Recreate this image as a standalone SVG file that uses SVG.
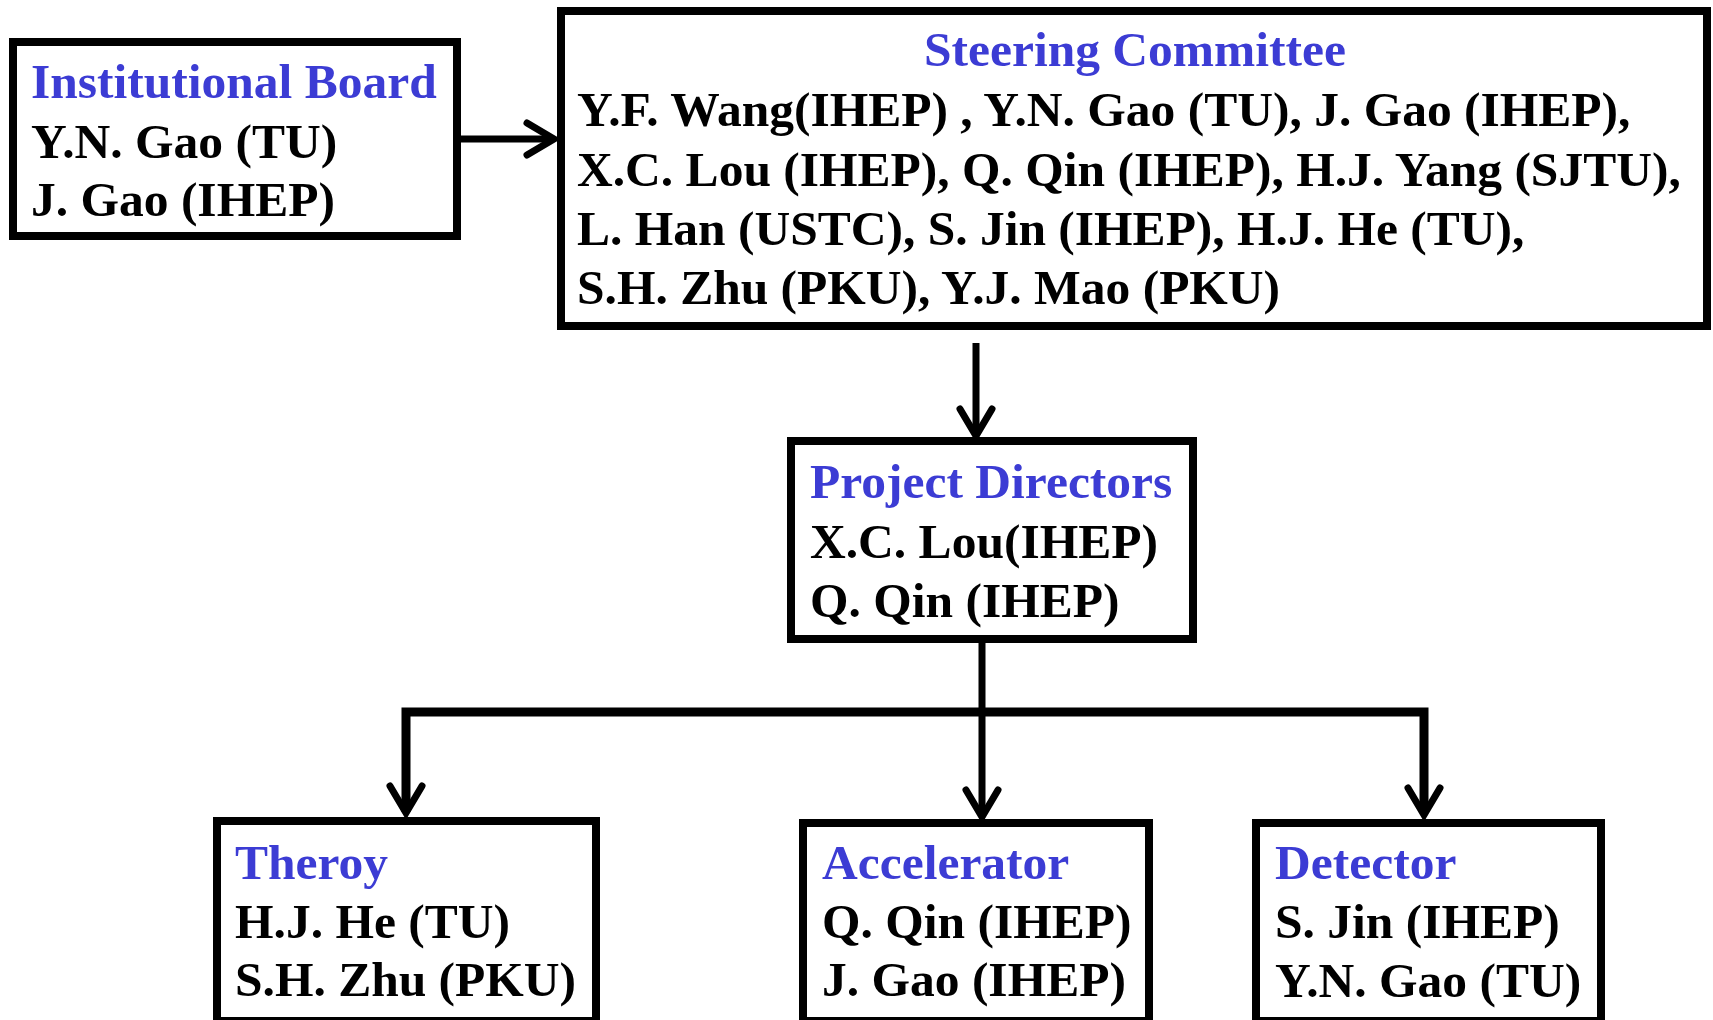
<svg xmlns="http://www.w3.org/2000/svg" width="1713" height="1020" viewBox="0 0 1713 1020">
<style>
.box{fill:#fff;stroke:#000;stroke-width:8}
.t{font-family:"Liberation Serif","Times New Roman",serif;font-weight:bold;font-size:49.5px;fill:#000}
.h{fill:#3c3cd4}
.c{fill:none;stroke:#000;stroke-width:7}
.bar{fill:none;stroke:#000;stroke-width:9;stroke-linejoin:miter}
.ah{fill:none;stroke:#000;stroke-width:7;stroke-linejoin:miter;stroke-linecap:round}
</style>
<rect width="1713" height="1020" fill="#fff"/>
<g id="connectors">
<line class="c" x1="461" y1="139" x2="553" y2="139"/>
<path class="ah" d="M527,123 L554,139 L527,155"/>
<line class="c" x1="976" y1="343" x2="976" y2="435"/>
<path class="ah" d="M960,409 L976,436 L992,409"/>
<line class="c" x1="982" y1="643" x2="982" y2="816"/>
<path class="ah" d="M966,790 L982,817 L998,790"/>
<path class="bar" d="M406,812 V712 H1424 V813"/>
<path class="ah" d="M390,786 L406,813 L422,786"/>
<path class="ah" d="M1408,788 L1424,815 L1440,788"/>
</g>
<g id="institutional-board">
<rect class="box" x="13" y="42" width="444" height="194"/>
<text class="t h" x="31" y="98">Institutional Board</text>
<text class="t" x="31" y="158">Y.N. Gao (TU)</text>
<text class="t" x="31" y="216">J. Gao (IHEP)</text>
</g>
<g id="steering-committee">
<rect class="box" x="561" y="11" width="1146" height="315"/>
<text class="t h" x="1135" y="66" text-anchor="middle">Steering Committee</text>
<text class="t" x="577" y="126">Y.F. Wang(IHEP) , Y.N. Gao (TU), J. Gao (IHEP),</text>
<text class="t" x="577" y="186">X.C. Lou (IHEP), Q. Qin (IHEP), H.J. Yang (SJTU),</text>
<text class="t" x="577" y="245">L. Han (USTC), S. Jin (IHEP), H.J. He (TU),</text>
<text class="t" x="577" y="304">S.H. Zhu (PKU), Y.J. Mao (PKU)</text>
</g>
<g id="project-directors">
<rect class="box" x="791" y="441" width="402" height="198"/>
<text class="t h" x="810" y="498">Project Directors</text>
<text class="t" x="810" y="558">X.C. Lou(IHEP)</text>
<text class="t" x="810" y="617">Q. Qin (IHEP)</text>
</g>
<g id="theory">
<rect class="box" x="217" y="821" width="379" height="200"/>
<text class="t h" x="235" y="879">Theroy</text>
<text class="t" x="235" y="938">H.J. He (TU)</text>
<text class="t" x="235" y="996">S.H. Zhu (PKU)</text>
</g>
<g id="accelerator">
<rect class="box" x="803" y="823" width="346" height="198"/>
<text class="t h" x="822" y="879">Accelerator</text>
<text class="t" x="822" y="938">Q. Qin (IHEP)</text>
<text class="t" x="822" y="996">J. Gao (IHEP)</text>
</g>
<g id="detector">
<rect class="box" x="1256" y="823" width="345" height="198"/>
<text class="t h" x="1275" y="879">Detector</text>
<text class="t" x="1275" y="938">S. Jin (IHEP)</text>
<text class="t" x="1275" y="997">Y.N. Gao (TU)</text>
</g>
</svg>
